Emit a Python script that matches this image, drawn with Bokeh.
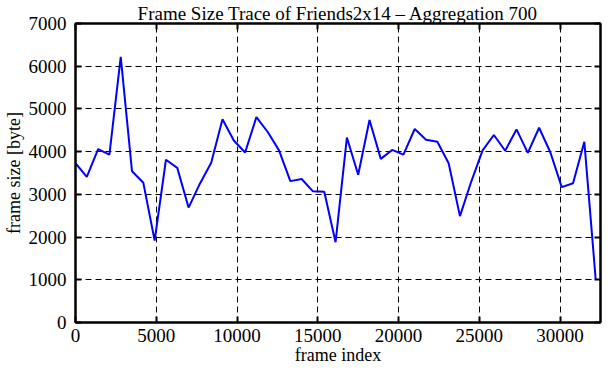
from bokeh.plotting import figure
from bokeh.models import LinearAxis, FixedTicker, Range1d, CustomJSTickFormatter
from bokeh.embed import file_html
from bokeh.resources import INLINE

frame_index = [0, 700, 1400, 2100, 2800, 3500, 4200, 4900, 5600, 6300,
               7000, 7700, 8400, 9100, 9800, 10500, 11200, 11900, 12600, 13300,
               14000, 14700, 15400, 16100, 16800, 17500, 18200, 18900, 19600, 20300,
               21000, 21700, 22400, 23100, 23800, 24500, 25200, 25900, 26600, 27300,
               28000, 28700, 29400, 30100, 30800, 31500, 32200]
frame_size = [3730, 3410, 4060, 3930, 6220, 3540, 3270, 1920, 3810, 3620,
              2690, 3250, 3740, 4760, 4260, 3980, 4810, 4460, 4030, 3310,
              3360, 3070, 3060, 1880, 4330, 3460, 4740, 3830, 4040, 3930,
              4530, 4280, 4230, 3730, 2490, 3300, 4030, 4390, 4020, 4520,
              3970, 4560, 3980, 3170, 3260, 4230, 1020]
x_ticks = [0, 5000, 10000, 15000, 20000, 25000, 30000]
y_ticks = [0, 1000, 2000, 3000, 4000, 5000, 6000, 7000]

FONT = "Liberation Serif"

p = figure(width=603, height=372, output_backend="svg", toolbar_location=None,
           x_range=Range1d(0, 32500), y_range=Range1d(0, 7000),
           title="Frame Size Trace of Friends2x14 \u2013 Aggregation 700",
           min_border_left=73, min_border_right=3, min_border_top=22, min_border_bottom=50)

p.title.align = "center"
p.title.text_font = FONT
p.title.text_font_size = "19px"
p.title.text_font_style = "normal"
p.title.text_color = "black"
p.title.standoff = 0
p.title.offset = 0

p.outline_line_color = "black"
p.outline_line_width = 2
p.background_fill_color = "white"
p.border_fill_color = "white"

for g in (p.xgrid, p.ygrid):
    g.grid_line_color = "black"
    g.grid_line_dash = "6 4"
    g.grid_line_width = 1
p.xgrid.ticker = FixedTicker(ticks=x_ticks)
p.ygrid.ticker = FixedTicker(ticks=y_ticks)

def style_axis(ax, show_labels):
    ax.axis_line_color = "black"
    ax.axis_line_width = 2
    ax.major_tick_in = 6
    ax.major_tick_out = 0
    ax.major_tick_line_width = 2
    ax.major_tick_line_color = "black"
    ax.minor_tick_line_color = None
    ax.major_label_text_font = FONT
    ax.major_label_text_color = "black"
    if show_labels:
        ax.major_label_text_font_size = "19px"
    else:
        ax.formatter = CustomJSTickFormatter(code="return ''")
        ax.major_label_text_font_size = "1px"
        ax.major_label_standoff = 0

xa = p.xaxis[0]
xa.ticker = FixedTicker(ticks=x_ticks)
style_axis(xa, True)
xa.major_label_standoff = 6
xa.axis_label = "frame index"
xa.axis_label_text_font = FONT
xa.axis_label_text_font_size = "18px"
xa.axis_label_text_font_style = "normal"
xa.axis_label_text_color = "black"
xa.axis_label_standoff = 0

ya = p.yaxis[0]
ya.ticker = FixedTicker(ticks=y_ticks)
style_axis(ya, True)
ya.major_label_standoff = 9
ya.axis_label = "frame size [byte]"
ya.axis_label_text_font = FONT
ya.axis_label_text_font_size = "18px"
ya.axis_label_text_font_style = "normal"
ya.axis_label_text_color = "black"
ya.axis_label_standoff = 2

top = LinearAxis(ticker=FixedTicker(ticks=x_ticks))
style_axis(top, False)
p.add_layout(top, "above")
right = LinearAxis(ticker=FixedTicker(ticks=y_ticks))
style_axis(right, False)
p.add_layout(right, "right")

p.line(frame_index, frame_size, line_color="#0000ff", line_width=2)

open("out.html", "w").write(file_html(p, INLINE))
